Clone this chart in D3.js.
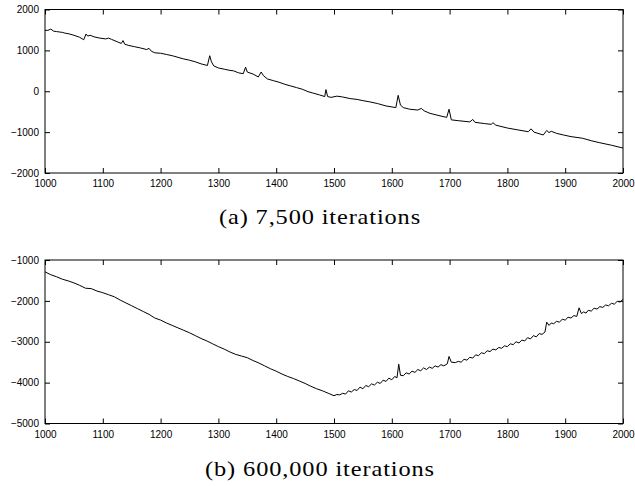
<!DOCTYPE html>
<html>
<head>
<meta charset="utf-8">
<script src="https://cdn.jsdelivr.net/npm/d3@7"></script>
<style>
  body { margin: 0; background: #fff; }
  svg { display: block; }
  .tick text { font-family: "Liberation Sans", Arial, Helvetica, sans-serif; font-size: 10px; }
  .caption { font-family: "Liberation Serif", "Times New Roman", Times, serif; font-size: 22px; letter-spacing: 0.8px; }
</style>
</head>
<body>
<div id="chart"></div>
<script>
// Data: [x, value]
const xTicks = [1000, 1100, 1200, 1300, 1400, 1500, 1600, 1700, 1800, 1900, 2000];
const yTicksA = [-2000, -1000, 0, 1000, 2000];
const yTicksB = [-5000, -4000, -3000, -2000, -1000];
const captionA = "(a) 7,500 iterations";
const captionB = "(b) 600,000 iterations";

const series7500 = [
  [1000, 1490], [1005, 1490], [1010, 1520], [1015, 1470], [1020, 1460], [1025, 1450],
  [1030, 1440], [1035, 1420], [1040, 1410], [1050, 1370], [1060, 1320], [1067, 1260],
  [1071, 1400], [1074, 1350], [1078, 1370], [1085, 1330], [1095, 1300], [1105, 1280],
  [1110, 1300], [1115, 1270], [1125, 1210], [1132, 1170], [1135, 1240], [1138, 1150],
  [1145, 1120], [1155, 1090], [1165, 1060], [1176, 1020], [1180, 1050], [1184, 980],
  [1190, 940], [1200, 930], [1210, 900], [1220, 870], [1230, 830], [1240, 790],
  [1250, 760], [1260, 720], [1270, 670], [1281, 630], [1285, 870], [1288, 720],
  [1292, 620], [1300, 570], [1310, 540], [1320, 510], [1326, 500], [1335, 450],
  [1343, 430], [1347, 590], [1350, 470], [1360, 420], [1369, 350], [1374, 470],
  [1378, 380], [1385, 300], [1395, 260], [1405, 220], [1415, 170], [1425, 130],
  [1435, 90], [1445, 50], [1455, -10], [1465, -50], [1475, -90], [1484, -130],
  [1486, 40], [1489, -130], [1495, -150], [1505, -120], [1515, -140], [1528, -180],
  [1540, -200], [1550, -230], [1562, -260], [1575, -300], [1590, -360], [1607, -400],
  [1611, -100], [1615, -340], [1620, -400], [1631, -440], [1645, -460], [1651, -420],
  [1656, -480], [1666, -540], [1680, -590], [1695, -640], [1699, -440], [1703, -700],
  [1715, -720], [1735, -750], [1740, -690], [1744, -760], [1760, -790], [1772, -810],
  [1775, -770], [1780, -830], [1800, -900], [1820, -950], [1836, -990], [1841, -920],
  [1846, -1000], [1862, -1070], [1868, -960], [1872, -1010], [1876, -980], [1885, -1030],
  [1897, -1070], [1910, -1110], [1930, -1150], [1945, -1210], [1960, -1260], [1980, -1320],
  [2000, -1390]
];

const series600000 = [
  [1000, -1290], [1010, -1360], [1020, -1410], [1030, -1470], [1040, -1510], [1050, -1560],
  [1060, -1620], [1070, -1690], [1080, -1700], [1090, -1760], [1100, -1800], [1110, -1850],
  [1120, -1900], [1130, -1980], [1140, -2050], [1150, -2120], [1160, -2190], [1170, -2260],
  [1180, -2330], [1190, -2420], [1200, -2470], [1210, -2540], [1220, -2600], [1230, -2660],
  [1240, -2720], [1250, -2780], [1260, -2850], [1270, -2920], [1280, -2980], [1290, -3050],
  [1300, -3120], [1310, -3180], [1320, -3250], [1330, -3310], [1340, -3350], [1350, -3390],
  [1360, -3460], [1370, -3520], [1380, -3590], [1390, -3660], [1400, -3720], [1410, -3790],
  [1420, -3850], [1430, -3900], [1440, -3960], [1450, -4020], [1460, -4090], [1470, -4150],
  [1480, -4200], [1490, -4260], [1500, -4320], [1505, -4290], [1510, -4300], [1515, -4260],
  [1520, -4280], [1525, -4200], [1530, -4230], [1535, -4170], [1540, -4190], [1545, -4110],
  [1550, -4150], [1555, -4070], [1560, -4100], [1565, -4030], [1570, -4060], [1575, -3990],
  [1580, -4020], [1585, -3940], [1590, -3970], [1595, -3890], [1600, -3930], [1605, -3850],
  [1609, -3880], [1612, -3550], [1615, -3820], [1620, -3830], [1625, -3760], [1630, -3790],
  [1635, -3720], [1640, -3750], [1645, -3680], [1650, -3710], [1655, -3640], [1660, -3680],
  [1665, -3620], [1670, -3650], [1675, -3590], [1680, -3620], [1685, -3560], [1690, -3590],
  [1696, -3540], [1699, -3360], [1703, -3500], [1710, -3510], [1715, -3480], [1720, -3500],
  [1725, -3430], [1730, -3450], [1735, -3380], [1740, -3400], [1745, -3320], [1750, -3340],
  [1755, -3270], [1760, -3290], [1765, -3220], [1770, -3240], [1775, -3180], [1780, -3200],
  [1785, -3140], [1790, -3160], [1795, -3100], [1800, -3120], [1805, -3050], [1810, -3070],
  [1815, -3000], [1820, -3030], [1825, -2960], [1830, -2980], [1835, -2900], [1840, -2930],
  [1845, -2850], [1850, -2880], [1855, -2800], [1860, -2820], [1865, -2760], [1868, -2520],
  [1872, -2600], [1876, -2540], [1880, -2560], [1885, -2500], [1890, -2520], [1895, -2450],
  [1900, -2470], [1905, -2400], [1910, -2420], [1915, -2360], [1920, -2380], [1924, -2170],
  [1928, -2310], [1932, -2270], [1936, -2300], [1940, -2230], [1945, -2250], [1950, -2180],
  [1955, -2200], [1960, -2140], [1965, -2160], [1970, -2100], [1975, -2120], [1980, -2060],
  [1985, -2080], [1990, -2010], [1995, -2030], [2000, -1960]
];

const width = 635, height = 486;

const svg = d3.select("#chart")
  .append("svg")
  .attr("width", width)
  .attr("height", height);

// Draws one framed panel with inward ticks on all four sides
function drawPanel(data, yTicks, top, bottom, caption, captionY, captionW) {
  const left = 45, right = 623;

  const x = d3.scaleLinear()
    .domain([1000, 2000])
    .range([left, right]);

  const y = d3.scaleLinear()
    .domain([yTicks[0], yTicks[yTicks.length - 1]])
    .range([bottom, top]);

  const g = svg.append("g");

  // Line
  g.append("path")
    .datum(data)
    .attr("fill", "none")
    .attr("stroke", "#000")
    .attr("stroke-width", 1)
    .attr("stroke-linejoin", "round")
    .attr("d", d3.line().x(d => x(d[0])).y(d => y(d[1])));

  // Axes
  const fmt = d3.format("d");

  g.append("g")
    .attr("transform", `translate(0,${bottom})`)
    .call(d3.axisBottom(x).tickValues(xTicks).tickSize(-5).tickPadding(7).tickFormat(fmt));

  g.append("g")
    .attr("transform", `translate(${left},0)`)
    .call(d3.axisLeft(y).tickValues(yTicks).tickSize(-5).tickPadding(6).tickFormat(fmt));

  g.append("g")
    .attr("transform", `translate(0,${top})`)
    .call(d3.axisTop(x).tickValues(xTicks).tickSize(-5).tickFormat(""));

  g.append("g")
    .attr("transform", `translate(${right},0)`)
    .call(d3.axisRight(y).tickValues(yTicks).tickSize(-5).tickFormat(""));

  g.selectAll(".domain").remove();
  g.selectAll(".tick line").attr("stroke", "#000");
  g.selectAll("g").attr("font-family", null).attr("font-size", null);
  g.selectAll(".tick text").attr("fill", "#000");

  // Frame
  g.append("rect")
    .attr("x", left)
    .attr("y", top)
    .attr("width", right - left)
    .attr("height", bottom - top)
    .attr("fill", "none")
    .attr("stroke", "#000")
    .attr("stroke-width", 1);

  // Caption
  svg.append("text")
    .attr("class", "caption")
    .attr("x", 320)
    .attr("y", captionY)
    .attr("text-anchor", "middle")
    .attr("textLength", captionW)
    .attr("lengthAdjust", "spacingAndGlyphs")
    .text(caption);
}

drawPanel(series7500, yTicksA, 9.5, 173, captionA, 224, 202);
drawPanel(series600000, yTicksB, 260, 423.5, captionB, 475.5, 230);
</script>
</body>
</html>
